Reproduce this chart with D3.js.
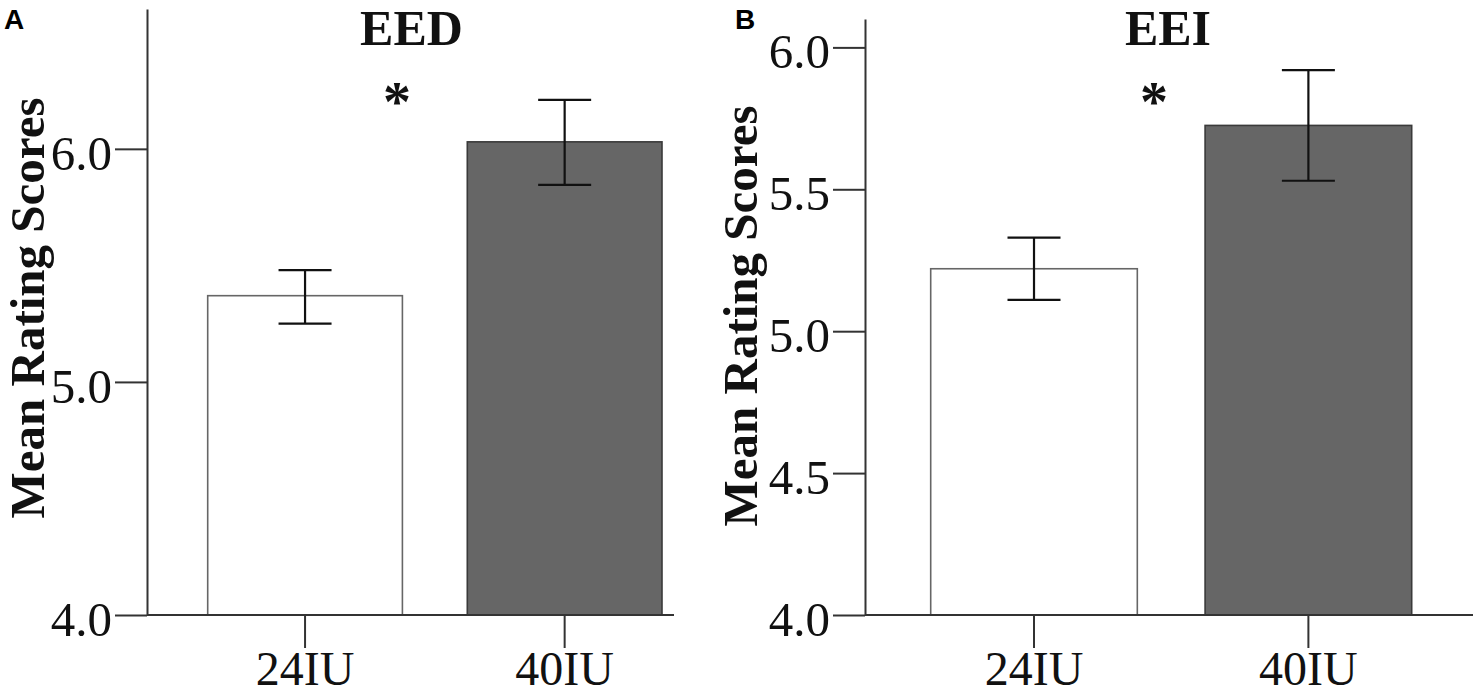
<!DOCTYPE html>
<html>
<head>
<meta charset="utf-8">
<script src="https://cdn.jsdelivr.net/npm/d3@7"></script>
<style>
  html, body { margin: 0; padding: 0; background: #fff; }
  svg { display: block; }
</style>
</head>
<body>
<svg id="chart" width="1476" height="696"></svg>
<script>
// ---- data ----
const categories = ["24IU", "40IU"];
const eedMeans = [5.37, 6.03];
const eedErrLow = [5.25, 5.845];
const eedErrHigh = [5.48, 6.21];
const eeiMeans = [5.22, 5.725];
const eeiErrLow = [5.11, 5.53];
const eeiErrHigh = [5.33, 5.92];
const eedTicks = [4.0, 5.0, 6.0];
const eeiTicks = [4.0, 4.5, 5.0, 5.5, 6.0];
const barFills = ["#ffffff", "#666666"];
const barStrokes = ["#666666", "#3a3a3a"];

const svg = d3.select("#chart");
const serif = "'Liberation Serif', 'Times New Roman', Times, serif";

function drawPanel(p) {
  const g = svg.append("g");
  const y = d3.scaleLinear().domain(p.yDomain).range([p.y0, p.yTop]);
  const x = d3.scaleBand().domain(categories)
    .range([p.barLeft, p.barRight]).paddingInner(p.padInner).paddingOuter(0);

  // bars
  g.selectAll("rect.bar").data(p.means).join("rect")
    .attr("class", "bar")
    .attr("x", (d, i) => x(categories[i]))
    .attr("width", x.bandwidth())
    .attr("y", d => y(d))
    .attr("height", d => y(p.yDomain[0]) - y(d))
    .attr("fill", (d, i) => barFills[i])
    .attr("stroke", (d, i) => barStrokes[i])
    .attr("stroke-width", 1.6);

  // error bars
  const cap = 26.5;
  const eb = g.selectAll("g.err").data(p.means).join("g").attr("class", "err");
  eb.append("line")
    .attr("x1", (d, i) => x(categories[i]) + x.bandwidth() / 2)
    .attr("x2", (d, i) => x(categories[i]) + x.bandwidth() / 2)
    .attr("y1", (d, i) => y(p.lo[i]))
    .attr("y2", (d, i) => y(p.hi[i]));
  eb.append("line")
    .attr("x1", (d, i) => x(categories[i]) + x.bandwidth() / 2 - cap)
    .attr("x2", (d, i) => x(categories[i]) + x.bandwidth() / 2 + cap)
    .attr("y1", (d, i) => y(p.hi[i]))
    .attr("y2", (d, i) => y(p.hi[i]));
  eb.append("line")
    .attr("x1", (d, i) => x(categories[i]) + x.bandwidth() / 2 - cap)
    .attr("x2", (d, i) => x(categories[i]) + x.bandwidth() / 2 + cap)
    .attr("y1", (d, i) => y(p.lo[i]))
    .attr("y2", (d, i) => y(p.lo[i]));
  eb.selectAll("line").attr("stroke", "#111").attr("stroke-width", 2.2);

  // y axis
  const yAxis = d3.axisLeft(y).tickValues(p.ticks).tickFormat(d3.format(".1f"))
    .tickSizeInner(32).tickSizeOuter(0).tickPadding(3);
  const ya = g.append("g").attr("transform", `translate(${p.axisX},0)`).call(yAxis);
  ya.select(".domain").attr("stroke", "#333").attr("stroke-width", 2);
  ya.selectAll(".tick line").attr("stroke", "#333").attr("stroke-width", 2);
  ya.selectAll(".tick text")
    .attr("font-family", serif).attr("font-size", 49).attr("fill", "#111")
    .attr("dy", "0.42em");

  // x axis
  const xAxis = d3.axisBottom(x).tickSizeInner(33).tickSizeOuter(0).tickPadding(3);
  const xa = g.append("g").attr("transform", `translate(0,${p.y0})`).call(xAxis);
  xa.select(".domain").remove();
  xa.append("line").attr("x1", p.axisX).attr("x2", p.xEnd)
    .attr("y1", 0).attr("y2", 0).attr("stroke", "#333").attr("stroke-width", 2);
  xa.selectAll(".tick line").attr("stroke", "#333").attr("stroke-width", 2);
  xa.selectAll(".tick text")
    .attr("font-family", serif).attr("font-size", 48).attr("fill", "#111")
    .attr("dy", "0.71em");

  // y title
  g.append("text")
    .attr("transform", `translate(${p.titleX},${p.titleY}) rotate(-90)`)
    .attr("text-anchor", "middle")
    .attr("font-family", serif).attr("font-weight", "bold").attr("font-size", 49)
    .attr("fill", "#111")
    .text("Mean Rating Scores");

  // panel title
  g.append("text")
    .attr("x", p.headX).attr("y", 45)
    .attr("text-anchor", "middle")
    .attr("font-family", serif).attr("font-weight", "bold").attr("font-size", 50)
    .attr("fill", "#111")
    .text(p.head);

  // significance star
  g.append("text")
    .attr("x", p.starX).attr("y", 121)
    .attr("text-anchor", "middle")
    .attr("font-family", serif).attr("font-weight", "bold").attr("font-size", 56)
    .attr("fill", "#111")
    .text("*");

  // panel letter
  g.append("text")
    .attr("x", p.letterX).attr("y", 29)
    .attr("font-family", "'Liberation Sans', Arial, sans-serif").attr("font-weight", "bold")
    .attr("font-size", 28).attr("fill", "#000")
    .text(p.letter);
}

drawPanel({
  means: eedMeans, lo: eedErrLow, hi: eedErrHigh, ticks: eedTicks,
  yDomain: [4.0, 6.6], y0: 615, yTop: 9,
  axisX: 147, xEnd: 674, barLeft: 207.7, barRight: 662, padInner: 0.25,
  titleX: 44, titleY: 308, head: "EED", headX: 411.5, starX: 397,
  letter: "A", letterX: 4
});

drawPanel({
  means: eeiMeans, lo: eeiErrLow, hi: eeiErrHigh, ticks: eeiTicks,
  yDomain: [4.0, 6.1], y0: 615, yTop: 19,
  axisX: 865, xEnd: 1473, barLeft: 930.7, barRight: 1411.7, padInner: 0.247,
  titleX: 757, titleY: 316, head: "EEI", headX: 1168, starX: 1154,
  letter: "B", letterX: 735
});
</script>
</body>
</html>
